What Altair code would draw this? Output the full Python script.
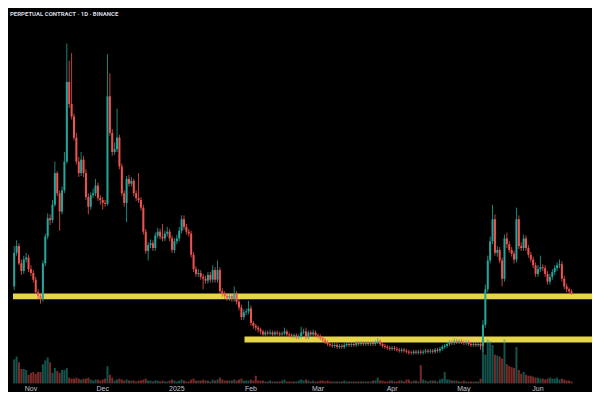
import altair as alt
import pandas as pd

# ---------------- data ----------------
first_open = 0.110
closes = [
    0.145, 0.152, 0.134, 0.126, 0.138, 0.140, 0.128, 0.124, 0.117, 0.104,
    0.100, 0.097, 0.134, 0.162, 0.181, 0.179, 0.195, 0.228, 0.207, 0.188,
    0.210, 0.240, 0.323, 0.300, 0.287, 0.265, 0.240, 0.228, 0.242, 0.228,
    0.203, 0.193, 0.205, 0.207, 0.215, 0.202, 0.200, 0.197, 0.196, 0.308,
    0.270, 0.250, 0.253, 0.265, 0.235, 0.207, 0.197, 0.222, 0.217, 0.220,
    0.207, 0.202, 0.200, 0.192, 0.167, 0.147, 0.153, 0.155, 0.150, 0.163,
    0.167, 0.162, 0.160, 0.165, 0.167, 0.160, 0.148, 0.157, 0.160, 0.168,
    0.180, 0.172, 0.167, 0.165, 0.143, 0.128, 0.123, 0.124, 0.120, 0.118,
    0.116, 0.122, 0.117, 0.127, 0.117, 0.127, 0.105, 0.102, 0.100, 0.098,
    0.100, 0.097, 0.102, 0.094, 0.088, 0.078, 0.083, 0.084, 0.087, 0.072,
    0.069, 0.067, 0.065, 0.063, 0.060, 0.062, 0.061, 0.062, 0.060, 0.062,
    0.061, 0.060, 0.061, 0.063, 0.060, 0.059, 0.058, 0.059, 0.057, 0.058,
    0.062, 0.063, 0.057, 0.062, 0.060, 0.062, 0.059, 0.058, 0.056, 0.054,
    0.052, 0.050, 0.049, 0.048, 0.049, 0.047, 0.048, 0.047, 0.049, 0.050,
    0.049, 0.050, 0.049, 0.051, 0.050, 0.051, 0.050, 0.051, 0.050, 0.051,
    0.050, 0.052, 0.053, 0.050, 0.048, 0.047, 0.046, 0.045, 0.046, 0.045,
    0.044, 0.043, 0.044, 0.043, 0.042, 0.041, 0.0405, 0.042, 0.041, 0.042,
    0.041, 0.042, 0.043, 0.042, 0.043, 0.042, 0.044, 0.043, 0.045, 0.047,
    0.048, 0.050, 0.052, 0.051, 0.053, 0.052, 0.053, 0.052, 0.051, 0.052,
    0.050, 0.049, 0.050, 0.049, 0.050, 0.048, 0.070, 0.107, 0.137, 0.157,
    0.180, 0.145, 0.148, 0.137, 0.118, 0.160, 0.154, 0.148, 0.144, 0.138,
    0.180, 0.152, 0.150, 0.160, 0.150, 0.143, 0.138, 0.132, 0.123, 0.128,
    0.130, 0.129, 0.123, 0.115, 0.120, 0.125, 0.129, 0.132, 0.133, 0.118,
    0.110, 0.107, 0.105, 0.103,
]
highs = [
    0.152, 0.158, 0.155, 0.138, 0.142, 0.145, 0.143, 0.132, 0.127, 0.120,
    0.107, 0.103, 0.137, 0.165, 0.186, 0.185, 0.200, 0.240, 0.230, 0.210,
    0.214, 0.250, 0.363, 0.345, 0.353, 0.290, 0.270, 0.245, 0.250, 0.246,
    0.232, 0.207, 0.208, 0.212, 0.222, 0.218, 0.205, 0.203, 0.200, 0.352,
    0.332, 0.274, 0.260, 0.295, 0.268, 0.238, 0.210, 0.225, 0.226, 0.224,
    0.222, 0.210, 0.228, 0.203, 0.195, 0.170, 0.156, 0.159, 0.158, 0.166,
    0.171, 0.170, 0.175, 0.168, 0.172, 0.170, 0.163, 0.160, 0.164, 0.172,
    0.184, 0.184, 0.175, 0.170, 0.168, 0.146, 0.131, 0.128, 0.127, 0.123,
    0.121, 0.125, 0.125, 0.132, 0.130, 0.137, 0.130, 0.108, 0.105, 0.103,
    0.103, 0.103, 0.110, 0.105, 0.097, 0.091, 0.086, 0.087, 0.095, 0.090,
    0.074, 0.071, 0.069, 0.067, 0.065, 0.064, 0.064, 0.065, 0.064, 0.064,
    0.064, 0.063, 0.063, 0.067, 0.065, 0.062, 0.061, 0.061, 0.061, 0.060,
    0.068, 0.066, 0.067, 0.064, 0.064, 0.065, 0.064, 0.061, 0.060, 0.058,
    0.056, 0.054, 0.052, 0.051, 0.051, 0.051, 0.050, 0.050, 0.051, 0.052,
    0.052, 0.052, 0.052, 0.053, 0.053, 0.053, 0.053, 0.053, 0.053, 0.053,
    0.053, 0.054, 0.056, 0.055, 0.052, 0.050, 0.049, 0.048, 0.048, 0.048,
    0.047, 0.046, 0.046, 0.046, 0.045, 0.044, 0.043, 0.044, 0.044, 0.044,
    0.044, 0.044, 0.045, 0.045, 0.045, 0.045, 0.046, 0.046, 0.047, 0.049,
    0.050, 0.052, 0.054, 0.054, 0.056, 0.055, 0.055, 0.055, 0.054, 0.054,
    0.054, 0.052, 0.052, 0.052, 0.052, 0.052, 0.075, 0.112, 0.142, 0.162,
    0.195, 0.185, 0.152, 0.151, 0.140, 0.164, 0.166, 0.157, 0.151, 0.147,
    0.192, 0.184, 0.156, 0.164, 0.163, 0.153, 0.146, 0.141, 0.135, 0.132,
    0.142, 0.133, 0.132, 0.126, 0.123, 0.128, 0.132, 0.135, 0.138, 0.136,
    0.121, 0.113, 0.109, 0.107,
]
lows = [
    0.106, 0.142, 0.132, 0.122, 0.123, 0.135, 0.125, 0.121, 0.114, 0.102,
    0.097, 0.092, 0.094, 0.131, 0.159, 0.174, 0.176, 0.193, 0.204, 0.168,
    0.185, 0.207, 0.238, 0.296, 0.284, 0.262, 0.237, 0.224, 0.225, 0.224,
    0.200, 0.185, 0.190, 0.202, 0.204, 0.199, 0.195, 0.190, 0.193, 0.194,
    0.267, 0.246, 0.247, 0.250, 0.232, 0.204, 0.193, 0.177, 0.214, 0.214,
    0.204, 0.199, 0.197, 0.189, 0.164, 0.144, 0.137, 0.150, 0.147, 0.147,
    0.160, 0.159, 0.157, 0.157, 0.162, 0.157, 0.145, 0.145, 0.154, 0.157,
    0.165, 0.169, 0.164, 0.162, 0.140, 0.125, 0.120, 0.120, 0.117, 0.107,
    0.113, 0.113, 0.114, 0.114, 0.114, 0.114, 0.102, 0.099, 0.097, 0.095,
    0.095, 0.094, 0.094, 0.091, 0.085, 0.075, 0.075, 0.080, 0.081, 0.069,
    0.066, 0.064, 0.062, 0.060, 0.058, 0.058, 0.059, 0.059, 0.058, 0.058,
    0.059, 0.058, 0.058, 0.059, 0.058, 0.057, 0.056, 0.056, 0.055, 0.055,
    0.056, 0.060, 0.055, 0.055, 0.058, 0.058, 0.057, 0.056, 0.054, 0.052,
    0.050, 0.048, 0.047, 0.046, 0.046, 0.045, 0.045, 0.045, 0.045, 0.047,
    0.047, 0.047, 0.047, 0.047, 0.048, 0.048, 0.048, 0.048, 0.048, 0.048,
    0.048, 0.048, 0.050, 0.048, 0.046, 0.045, 0.044, 0.043, 0.043, 0.043,
    0.042, 0.041, 0.041, 0.041, 0.040, 0.039, 0.039, 0.039, 0.039, 0.039,
    0.039, 0.039, 0.040, 0.040, 0.040, 0.040, 0.040, 0.041, 0.041, 0.043,
    0.045, 0.046, 0.048, 0.049, 0.049, 0.050, 0.050, 0.050, 0.049, 0.049,
    0.048, 0.047, 0.047, 0.047, 0.047, 0.044, 0.042, 0.067, 0.104, 0.134,
    0.154, 0.142, 0.141, 0.134, 0.110, 0.115, 0.150, 0.145, 0.141, 0.134,
    0.135, 0.149, 0.147, 0.147, 0.147, 0.140, 0.135, 0.129, 0.120, 0.120,
    0.125, 0.126, 0.120, 0.112, 0.112, 0.117, 0.122, 0.126, 0.129, 0.115,
    0.107, 0.104, 0.102, 0.101,
]
volumes = [
    25, 28, 22, 15, 15, 14, 9, 11, 12, 10,
    12, 12, 20, 24, 27, 22, 11, 16, 13, 11,
    14, 14, 16, 6, 5, 5, 6, 5, 4, 5,
    5, 6, 4, 3, 4, 4, 3, 4, 5, 18,
    9, 6, 3, 4, 5, 4, 3, 4, 3, 3,
    3, 2, 3, 3, 4, 5, 3, 3, 2, 3,
    3, 2, 3, 2, 2, 3, 4, 3, 2, 3,
    4, 3, 2, 2, 4, 5, 3, 3, 3, 4,
    3, 3, 2, 4, 3, 4, 6, 4, 3, 3,
    3, 3, 4, 3, 4, 5, 3, 3, 3, 4,
    3, 8, 3, 3, 3, 2, 2, 3, 2, 2,
    2, 2, 3, 4, 2, 2, 2, 2, 2, 3,
    4, 3, 4, 3, 2, 3, 2, 2, 3, 3,
    2, 3, 2, 2, 2, 2, 2, 2, 3, 2,
    2, 2, 2, 2, 2, 2, 2, 2, 2, 2,
    3, 3, 6, 3, 3, 2, 2, 3, 3, 2,
    2, 3, 3, 2, 4, 4, 2, 3, 3, 2,
    19, 4, 3, 2, 3, 3, 3, 2, 4, 5,
    12, 4, 4, 3, 3, 3, 2, 2, 3, 2,
    2, 2, 2, 2, 2, 5, 48, 30, 46, 44,
    40, 30, 29, 28, 26, 46, 20, 18, 17, 16,
    38, 14, 10, 12, 9, 8, 8, 7, 6, 6,
    5, 5, 4, 5, 6, 5, 5, 6, 4, 5,
    4, 3, 3, 2,
]
month_labels = ["Nov", "Dec", "2025", "Feb", "Mar", "Apr", "May", "Jun"]
month_dates = ["2024-11-01", "2024-12-01", "2025-01-01", "2025-02-01",
               "2025-03-01", "2025-04-01", "2025-05-01", "2025-06-01"]
level_prices = [0.0997, 0.0547]
level_starts = ["2024-10-24T12:00:00Z", "2025-01-29T07:00:00Z"]
title_text = "PERPETUAL CONTRACT · 1D · BINANCE"

# ---------------- build ----------------
n = len(closes)
assert len(highs) == n and len(lows) == n and len(volumes) == n, (n, len(highs), len(lows), len(volumes))

W, H = 584, 384
UP, DOWN = "#26a69a", "#ef5350"
YELLOW = "#e6d44a"

dates = pd.date_range("2024-10-25", periods=n, freq="D").strftime("%Y-%m-%d")
opens = [first_open] + closes[:-1]
df = pd.DataFrame({"date": dates, "open": opens, "close": closes,
                   "high": highs, "low": lows, "volume": volumes})
df["dir"] = ["up" if c >= o else "down" for o, c in zip(opens, closes)]

xscale = alt.Scale(domain=[alt.DateTime(year=2024, month=10, date=24, hours=12, utc=True),
                           alt.DateTime(year=2025, month=6, date=21, hours=12, utc=True)])
yscale = alt.Scale(domain=[0, 0.4], nice=False, zero=False)
cscale = alt.Scale(domain=["up", "down"], range=[UP, DOWN])

x_enc = alt.X("date:T", scale=xscale, axis=None)
col = alt.Color("dir:N", scale=cscale, legend=None)

band_df = pd.DataFrame({"price": level_prices, "start": level_starts})
bands = alt.Chart(band_df).mark_rule(color=YELLOW, strokeWidth=5.8).encode(
    x=alt.X("start:T", scale=xscale, axis=None),
    x2=alt.value(W),
    y=alt.Y("price:Q", scale=yscale, axis=None),
)

vol = alt.Chart(df).mark_bar(size=2.0, opacity=0.5).encode(
    x=x_enc,
    y=alt.Y("volume:Q", scale=alt.Scale(domain=[0, 391], range=[375.4, 0], nice=False), axis=None),
    color=col,
)

wicks = alt.Chart(df).mark_rule(strokeWidth=0.8).encode(
    x=x_enc,
    y=alt.Y("low:Q", scale=yscale, axis=None),
    y2="high:Q",
    color=col,
)

bodies = alt.Chart(df).mark_bar(size=2.0).encode(
    x=x_enc,
    y=alt.Y("open:Q", scale=yscale, axis=None),
    y2="close:Q",
    color=col,
)

month_df = pd.DataFrame({"date": month_dates, "label": month_labels})
months = alt.Chart(month_df).mark_text(
    fontSize=7, color="#c3c6ce", baseline="top", align="center", font="Liberation Sans"
).encode(
    x=alt.X("date:T", scale=xscale, axis=None),
    y=alt.value(377),
    text="label:N",
)

title = alt.Chart(pd.DataFrame({"t": [title_text]})).mark_text(
    fontSize=6, fontWeight="bold", color="#d9dbe0", align="left",
    baseline="alphabetic", font="Roboto"
).encode(x=alt.value(2), y=alt.value(7.5), text="t:N")

chart = alt.layer(bands, vol, wicks, bodies, months, title).resolve_scale(
    y="independent"
).properties(
    width=W, height=H, background="#000000", padding=0,
    autosize=alt.AutoSizeParams(type="none"),
).configure_view(strokeWidth=0)

chart.save("out.html", embed_options={"renderer": "svg", "actions": False})
